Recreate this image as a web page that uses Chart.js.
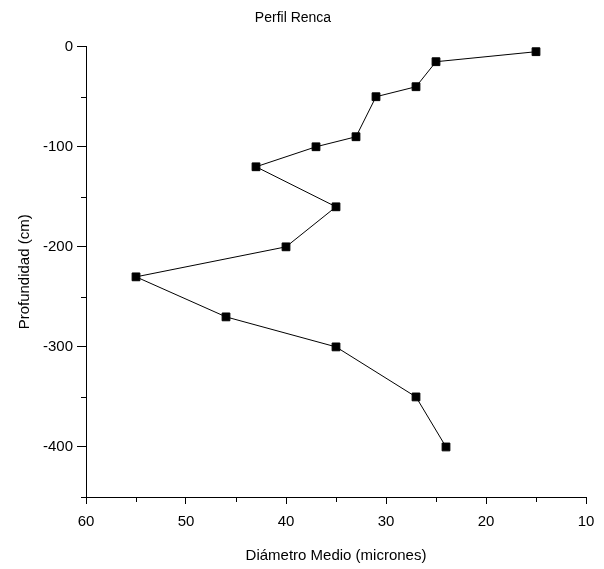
<!DOCTYPE html>
<html>
<head>
<meta charset="utf-8">
<script src="https://cdn.jsdelivr.net/npm/chart.js@4/dist/chart.umd.min.js"></script>
<style>
  html, body { margin: 0; padding: 0; background: #fff; }
  #wrap { width: 604px; height: 569px; }
</style>
</head>
<body>
<div id="wrap"><canvas id="perfil" width="604" height="569"></canvas></div>
<script>
// Perfil Renca: diametro medio vs profundidad
var diametro = [15, 25, 27, 31, 33, 37, 43, 35, 40, 55, 46, 35, 27, 24];
var profundidad = [-5, -15, -40, -50, -90, -100, -120, -160, -200, -230, -270, -300, -350, -400];

var xTicks = [60, 50, 40, 30, 20, 10];
var yTicks = [0, -100, -200, -300, -400];

var puntos = [];
for (var i = 0; i < diametro.length; i++) {
	puntos.push({x: diametro[i], y: profundidad[i]});
}

var fuente = "'Liberation Sans', Arial, sans-serif";

//Ticks menores (mas cortos que los mayores)
var ticksMenores = {
	id: 'ticksMenores',
	afterDraw: function(chart) {
		var ctx = chart.ctx;
		var xs = chart.scales.x, ys = chart.scales.y;
		ctx.save();
		ctx.strokeStyle = '#000';
		ctx.lineWidth = 1;
		ctx.beginPath();
		xs.ticks.forEach(function(t) {
			if (xTicks.indexOf(t.value) < 0) {
				var px = Math.round(xs.getPixelForValue(t.value)) + 0.5;
				ctx.moveTo(px, xs.top);
				ctx.lineTo(px, xs.top + 5);
			}
		});
		ys.ticks.forEach(function(t) {
			if (yTicks.indexOf(t.value) < 0) {
				var py = Math.round(ys.getPixelForValue(t.value)) + 0.5;
				ctx.moveTo(ys.right, py);
				ctx.lineTo(ys.right - 5, py);
			}
		});
		ctx.stroke();
		ctx.restore();
	}
};

var ctx = document.getElementById('perfil').getContext('2d');
var chart = new Chart(ctx, {
	type: 'scatter',
	data: {
		datasets: [{
			label: 'Perfil Renca',
			data: puntos,
			showLine: true,
			borderColor: '#000',
			borderWidth: 1,
			backgroundColor: '#000',
			pointStyle: 'rect',
			pointRadius: 5.5,
			pointBorderWidth: 1,
			pointBorderColor: '#000',
			pointBackgroundColor: '#000'
		}]
	},
	options: {
		responsive: false,
		animation: false,
		layout: {padding: {left: 0, right: 18, top: 0, bottom: 0}},
		plugins: {
			legend: {display: false},
			tooltip: {enabled: false},
			title: {
				display: true,
				text: 'Perfil Renca',
				color: '#000',
				font: {family: fuente, size: 14, weight: 'normal'},
				padding: {top: 10, bottom: 19.9}
			}
		},
		scales: {
			x: {
				type: 'linear',
				reverse: true,
				min: 10,
				max: 60,
				afterFit: function(s) { s.height = 72; },
				ticks: {
					stepSize: 5,
					autoSkip: false,
					maxRotation: 0,
					color: '#000',
					padding: 9,
					font: {family: fuente, size: 15},
					callback: function(v) { return xTicks.indexOf(v) >= 0 ? v : ''; }
				},
				grid: {
					drawOnChartArea: false,
					tickLength: 7,
					color: function(c) { return c.tick && xTicks.indexOf(c.tick.value) >= 0 ? '#000' : 'rgba(0,0,0,0)'; }
				},
				border: {display: true, color: '#000', width: 1},
				title: {
					display: true,
					text: 'Diámetro Medio (micrones)',
					color: '#000',
					font: {family: fuente, size: 15},
					padding: {top: 0, bottom: 4}
				}
			},
			y: {
				type: 'linear',
				min: -450,
				max: 0,
				afterFit: function(s) { s.width = 86; },
				ticks: {
					stepSize: 50,
					autoSkip: false,
					color: '#000',
					padding: 4,
					font: {family: fuente, size: 15},
					callback: function(v) { return yTicks.indexOf(v) >= 0 ? v : ''; }
				},
				grid: {
					drawOnChartArea: false,
					tickLength: 9,
					color: function(c) { return c.tick && yTicks.indexOf(c.tick.value) >= 0 ? '#000' : 'rgba(0,0,0,0)'; }
				},
				border: {display: true, color: '#000', width: 1},
				title: {
					display: true,
					text: 'Profundidad (cm)',
					color: '#000',
					font: {family: fuente, size: 15},
					padding: {top: 16, bottom: 0}
				}
			}
		}
	},
	plugins: [ticksMenores]
});
</script>
</body>
</html>
